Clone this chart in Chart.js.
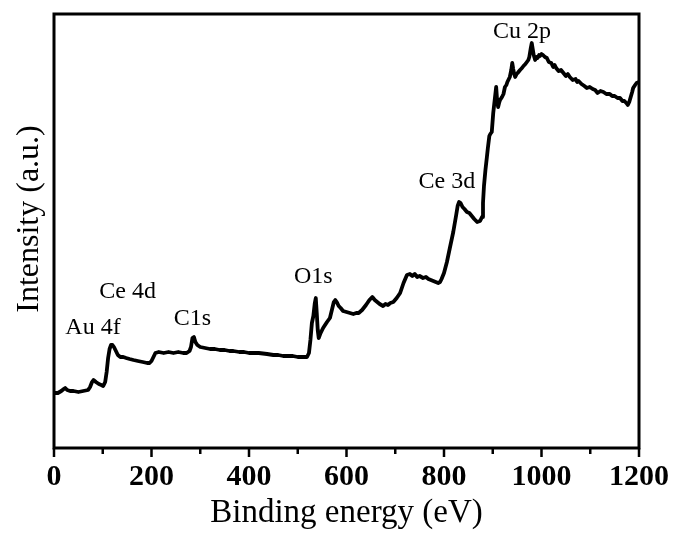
<!DOCTYPE html>
<html>
<head>
<meta charset="utf-8">
<script src="https://cdn.jsdelivr.net/npm/chart.js@4/dist/chart.umd.min.js"></script>
<style>
  html, body { margin: 0; padding: 0; background: #ffffff; }
  #wrap { width: 675px; height: 534px; }
</style>
</head>
<body>
<div id="wrap"><canvas id="c" width="675" height="534"></canvas></div>
<script>
// XPS survey spectrum: binding energy (eV) vs intensity (a.u.)
const energy = [
  0, 8, 15, 20, 23, 27, 33, 40, 50, 60, 70, 74, 78, 81, 86, 92, 97, 101, 105, 108,
  111, 114, 117, 120, 123, 127, 131, 136, 142, 148, 155, 163, 172, 182, 191, 196, 200, 204, 208, 215,
  225, 235, 245, 255, 265, 272, 278, 281, 284, 287, 290, 294, 300, 310, 320, 330, 340, 350, 360, 368,
  380, 390, 400, 410, 420, 437, 450, 460, 470, 480, 490, 500, 510, 519, 523, 526, 529, 532, 535, 537,
  539, 541, 543, 546, 552, 560, 566, 570, 574, 577, 580, 584, 588, 593, 600, 607, 614, 620, 625, 632,
  640, 647, 653, 658, 663, 668, 675, 680, 685, 690, 696, 703, 710, 717, 724, 730, 735, 740, 745, 750,
  757, 763, 768, 773, 778, 783, 788, 792, 795, 800, 806, 812, 819, 825, 828, 831, 834, 838, 842, 847,
  852, 857, 862, 868, 874, 878, 880, 882, 885, 888, 890, 893, 895, 898, 901, 904, 907, 909, 911, 913,
  915, 919, 922, 925, 928, 930, 933, 935, 938, 940, 942, 944, 946, 949, 951, 956, 960, 963, 967, 970,
  973, 975, 978, 980, 982, 984, 987, 990, 992, 995, 997, 1000, 1003, 1007, 1011, 1015, 1020, 1024, 1027, 1030,
  1035, 1040, 1045, 1050, 1054, 1058, 1064, 1070, 1073, 1076, 1082, 1088, 1093, 1099, 1105, 1110, 1115, 1121, 1127, 1133,
  1140, 1145, 1150, 1156, 1161, 1166, 1170, 1174, 1177, 1180, 1183, 1186, 1188, 1192, 1195, 1200
];
const intensity = [
  55, 55, 57, 59, 60, 58, 57, 57, 56, 57, 58, 61, 66, 68, 66, 64, 63, 62, 66, 76,
  90, 99, 103, 103, 101, 97, 93, 91, 91, 90, 89, 88, 87, 86, 85, 85, 87, 91, 95, 96,
  95, 96, 95, 96, 95, 95, 97, 101, 110, 111, 106, 103, 101, 100, 99, 99, 98, 98, 97, 97,
  96, 96, 95, 95, 95, 94, 93, 93, 92, 92, 92, 91, 91, 91, 95, 108, 125, 132, 145, 150,
  135, 118, 110, 114, 120, 126, 130, 138, 146, 148, 146, 142, 140, 137, 136, 135, 134, 135, 135, 138,
  143, 148, 151, 148, 146, 144, 142, 144, 143, 145, 146, 150, 155, 165, 173, 174, 172, 174, 171, 172,
  170, 171, 169, 168, 167, 166, 165, 166, 169, 175, 186, 200, 216, 233, 242, 246, 245, 241, 239, 236,
  235, 232, 229, 226, 227, 231, 245, 262, 278, 291, 300, 312, 314, 316, 335, 348, 361, 347, 341, 345,
  348, 351, 354, 361, 363, 366, 369, 371, 378, 385, 379, 374, 371, 374, 375, 378, 380, 382, 384, 386,
  388, 391, 400, 405, 399, 393, 388, 391, 390, 393, 392, 394, 393, 391, 390, 386, 385, 381, 383, 380,
  377, 378, 375, 372, 374, 371, 368, 369, 366, 367, 364, 362, 360, 361, 359, 358, 355, 357, 356, 354,
  354, 352, 352, 350, 350, 347, 347, 345, 343, 346, 351, 356, 360, 363, 365, 366
];
const xTicks = [0, 200, 400, 600, 800, 1000, 1200];
const xMinorTicks = [100, 300, 500, 700, 900, 1100];
const peakLabels = ['Au 4f', 'Ce 4d', 'C1s', 'O1s', 'Ce 3d', 'Cu 2p'];
const peakLabelEnergy = [80, 151, 284, 532, 806, 960];
const peakLabelLevel = [114, 150, 123, 165, 260, 410];

const SERIF = "'Liberation Serif', 'Times New Roman', serif";

const framePlugin = {
  id: 'frameAndLabels',
  afterDraw(chart) {
    const ctx = chart.ctx;
    const a = chart.chartArea;
    const xs = chart.scales.x;
    const ys = chart.scales.y;
    ctx.save();
    // box frame
    ctx.strokeStyle = '#000';
    ctx.lineWidth = 3;
    ctx.strokeRect(a.left, a.top, a.right - a.left, a.bottom - a.top);
    // outward ticks on the energy axis
    ctx.lineWidth = 2.5;
    ctx.beginPath();
    xTicks.forEach(v => {
      const px = xs.getPixelForValue(v);
      ctx.moveTo(px, a.bottom);
      ctx.lineTo(px, a.bottom + 9);
    });
    xMinorTicks.forEach(v => {
      const px = xs.getPixelForValue(v);
      ctx.moveTo(px, a.bottom);
      ctx.lineTo(px, a.bottom + 6);
    });
    ctx.stroke();
    // peak assignments
    ctx.fillStyle = '#000';
    ctx.font = '24px ' + SERIF;
    ctx.textAlign = 'center';
    ctx.textBaseline = 'alphabetic';
    peakLabels.forEach((t, i) => {
      ctx.fillText(t, xs.getPixelForValue(peakLabelEnergy[i]), ys.getPixelForValue(peakLabelLevel[i]));
    });
    // vertical axis title
    ctx.font = '32px ' + SERIF;
    ctx.translate(38, 219);
    ctx.rotate(-Math.PI / 2);
    ctx.fillText('Intensity (a.u.)', 0, 0);
    ctx.restore();
  }
};

new Chart(document.getElementById('c'), {
  type: 'line',
  data: {
    datasets: [{
      data: energy.map((e, i) => ({ x: e, y: intensity[i] })),
      borderColor: '#000',
      borderWidth: 3.8,
      borderJoinStyle: 'round',
      borderCapStyle: 'round',
      pointRadius: 0,
      tension: 0,
      fill: false
    }]
  },
  options: {
    responsive: false,
    animation: false,
    events: [],
    layout: { padding: { top: 14, right: 36, left: 0, bottom: 0 } },
    plugins: { legend: { display: false }, tooltip: { enabled: false } },
    scales: {
      x: {
        type: 'linear',
        min: 0,
        max: 1200,
        border: { display: false },
        grid: { display: false, drawTicks: false },
        ticks: {
          stepSize: 200,
          padding: 11,
          color: '#000',
          font: { family: SERIF, size: 30, weight: 'bold' },
          maxRotation: 0,
          callback: v => String(v)
        },
        title: {
          display: true,
          text: 'Binding energy (eV)',
          color: '#000',
          font: { family: SERIF, size: 33, lineHeight: 1 },
          padding: { top: 0, bottom: 4 }
        },
        afterFit(scale) {
          scale.height = 86;
          scale.paddingLeft = 0;
          scale.paddingRight = 0;
        }
      },
      y: {
        min: 0,
        max: 434,
        border: { display: false },
        grid: { display: false, drawTicks: false },
        ticks: { display: false },
        afterFit(scale) { scale.width = 54; }
      }
    }
  },
  plugins: [framePlugin]
});
</script>
</body>
</html>
